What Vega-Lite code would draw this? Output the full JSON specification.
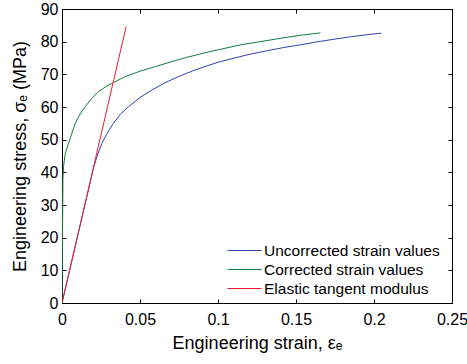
{
  "$schema": "https://vega.github.io/schema/vega-lite/v6.json",
  "width": 390,
  "height": 294,
  "autosize": {"type": "none"},
  "padding": {"left": 62, "top": 9, "right": 15, "bottom": 61},
  "background": "white",
  "config": {
    "font": "Liberation Sans",
    "view": {"stroke": "black", "strokeWidth": 1},
    "axis": {
      "domainColor": "black",
      "tickColor": "black",
      "labelColor": "black",
      "titleColor": "black",
      "labelFont": "Liberation Sans",
      "titleFont": "Liberation Sans",
      "labelFontSize": 16,
      "titleFontSize": 18,
      "titleFontWeight": "normal",
      "grid": false,
      "tickSize": -4
    }
  },
  "data": {
    "values": [
      {"series": "Uncorrected strain values", "strain": 0, "stress": 0},
      {"series": "Uncorrected strain values", "strain": 0.010, "stress": 20.5},
      {"series": "Uncorrected strain values", "strain": 0.0202, "stress": 41.3},
      {"series": "Uncorrected strain values", "strain": 0.0225, "stress": 45.0},
      {"series": "Uncorrected strain values", "strain": 0.0256, "stress": 48.9},
      {"series": "Uncorrected strain values", "strain": 0.029, "stress": 52.0},
      {"series": "Uncorrected strain values", "strain": 0.033, "stress": 55.0},
      {"series": "Uncorrected strain values", "strain": 0.0375, "stress": 57.8},
      {"series": "Uncorrected strain values", "strain": 0.0426, "stress": 60.1},
      {"series": "Uncorrected strain values", "strain": 0.050, "stress": 62.9},
      {"series": "Uncorrected strain values", "strain": 0.0576, "stress": 65.2},
      {"series": "Uncorrected strain values", "strain": 0.066, "stress": 67.4},
      {"series": "Uncorrected strain values", "strain": 0.0746, "stress": 69.3},
      {"series": "Uncorrected strain values", "strain": 0.0835, "stress": 71.0},
      {"series": "Uncorrected strain values", "strain": 0.0917, "stress": 72.4},
      {"series": "Uncorrected strain values", "strain": 0.100, "stress": 73.7},
      {"series": "Uncorrected strain values", "strain": 0.1098, "stress": 74.9},
      {"series": "Uncorrected strain values", "strain": 0.120, "stress": 76.1},
      {"series": "Uncorrected strain values", "strain": 0.1312, "stress": 77.2},
      {"series": "Uncorrected strain values", "strain": 0.142, "stress": 78.2},
      {"series": "Uncorrected strain values", "strain": 0.1525, "stress": 79.0},
      {"series": "Uncorrected strain values", "strain": 0.163, "stress": 79.9},
      {"series": "Uncorrected strain values", "strain": 0.1738, "stress": 80.7},
      {"series": "Uncorrected strain values", "strain": 0.185, "stress": 81.5},
      {"series": "Uncorrected strain values", "strain": 0.195, "stress": 82.1},
      {"series": "Uncorrected strain values", "strain": 0.2048, "stress": 82.6},
      {"series": "Corrected strain values", "strain": 0, "stress": 0},
      {"series": "Corrected strain values", "strain": 0.0003, "stress": 20.0},
      {"series": "Corrected strain values", "strain": 0.0006, "stress": 38.0},
      {"series": "Corrected strain values", "strain": 0.001, "stress": 41.8},
      {"series": "Corrected strain values", "strain": 0.002, "stress": 45.5},
      {"series": "Corrected strain values", "strain": 0.0042, "stress": 48.9},
      {"series": "Corrected strain values", "strain": 0.006, "stress": 51.5},
      {"series": "Corrected strain values", "strain": 0.0085, "stress": 55.0},
      {"series": "Corrected strain values", "strain": 0.0115, "stress": 57.8},
      {"series": "Corrected strain values", "strain": 0.0149, "stress": 60.1},
      {"series": "Corrected strain values", "strain": 0.019, "stress": 62.6},
      {"series": "Corrected strain values", "strain": 0.0234, "stress": 64.7},
      {"series": "Corrected strain values", "strain": 0.028, "stress": 66.2},
      {"series": "Corrected strain values", "strain": 0.033, "stress": 67.5},
      {"series": "Corrected strain values", "strain": 0.040, "stress": 69.2},
      {"series": "Corrected strain values", "strain": 0.049, "stress": 70.8},
      {"series": "Corrected strain values", "strain": 0.060, "stress": 72.4},
      {"series": "Corrected strain values", "strain": 0.0704, "stress": 73.9},
      {"series": "Corrected strain values", "strain": 0.080, "stress": 75.2},
      {"series": "Corrected strain values", "strain": 0.0917, "stress": 76.6},
      {"series": "Corrected strain values", "strain": 0.100, "stress": 77.5},
      {"series": "Corrected strain values", "strain": 0.1141, "stress": 79.0},
      {"series": "Corrected strain values", "strain": 0.127, "stress": 80.0},
      {"series": "Corrected strain values", "strain": 0.1397, "stress": 81.0},
      {"series": "Corrected strain values", "strain": 0.152, "stress": 81.9},
      {"series": "Corrected strain values", "strain": 0.1657, "stress": 82.7},
      {"series": "Elastic tangent modulus", "strain": 0, "stress": 0},
      {"series": "Elastic tangent modulus", "strain": 0.0411, "stress": 84.6}
    ]
  },
  "layer": [
    {
      "mark": {"type": "line", "strokeWidth": 1, "clip": true},
      "encoding": {
        "x": {
          "field": "strain", "type": "quantitative",
          "scale": {"domain": [0, 0.25], "nice": false},
          "axis": {
            "orient": "bottom",
            "values": [0, 0.05, 0.1, 0.15, 0.2, 0.25],
            "format": "~g",
            "labelPadding": 12,
            "labelFlush": false,
            "title": "Engineering strain, εₑ",
            "titlePadding": 7
          }
        },
        "y": {
          "field": "stress", "type": "quantitative",
          "scale": {"domain": [0, 90], "nice": false},
          "axis": {
            "orient": "left",
            "values": [0, 10, 20, 30, 40, 50, 60, 70, 80, 90],
            "labelPadding": 8,
            "labelFlush": false,
            "title": "Engineering stress, σₑ (MPa)",
            "titlePadding": 11
          }
        },
        "color": {
          "field": "series", "type": "nominal",
          "scale": {
            "domain": ["Uncorrected strain values", "Corrected strain values", "Elastic tangent modulus"],
            "range": ["#2c45a8", "#0f7d3c", "#ee1d2a"]
          },
          "legend": {
            "orient": "none",
            "legendX": 172,
            "legendY": 231,
            "title": null,
            "symbolType": "M-1.7,0H1.7",
            "symbolSize": 400,
            "symbolStrokeWidth": 1,
            "labelFontSize": 15.5,
            "labelFont": "Liberation Sans",
            "labelColor": "black",
            "labelOffset": 9,
            "labelLimit": 0,
            "rowPadding": 0,
            "padding": 0
          }
        }
      }
    },
    {
      "mark": {"type": "point", "opacity": 0},
      "encoding": {
        "x": {
          "field": "strain", "type": "quantitative",
          "axis": {"orient": "top", "values": [0, 0.05, 0.1, 0.15, 0.2, 0.25], "labels": false, "title": null}
        },
        "y": {
          "field": "stress", "type": "quantitative",
          "axis": {"orient": "right", "values": [0, 10, 20, 30, 40, 50, 60, 70, 80, 90], "labels": false, "title": null}
        }
      }
    }
  ],
  "resolve": {"axis": {"x": "independent", "y": "independent"}}
}
